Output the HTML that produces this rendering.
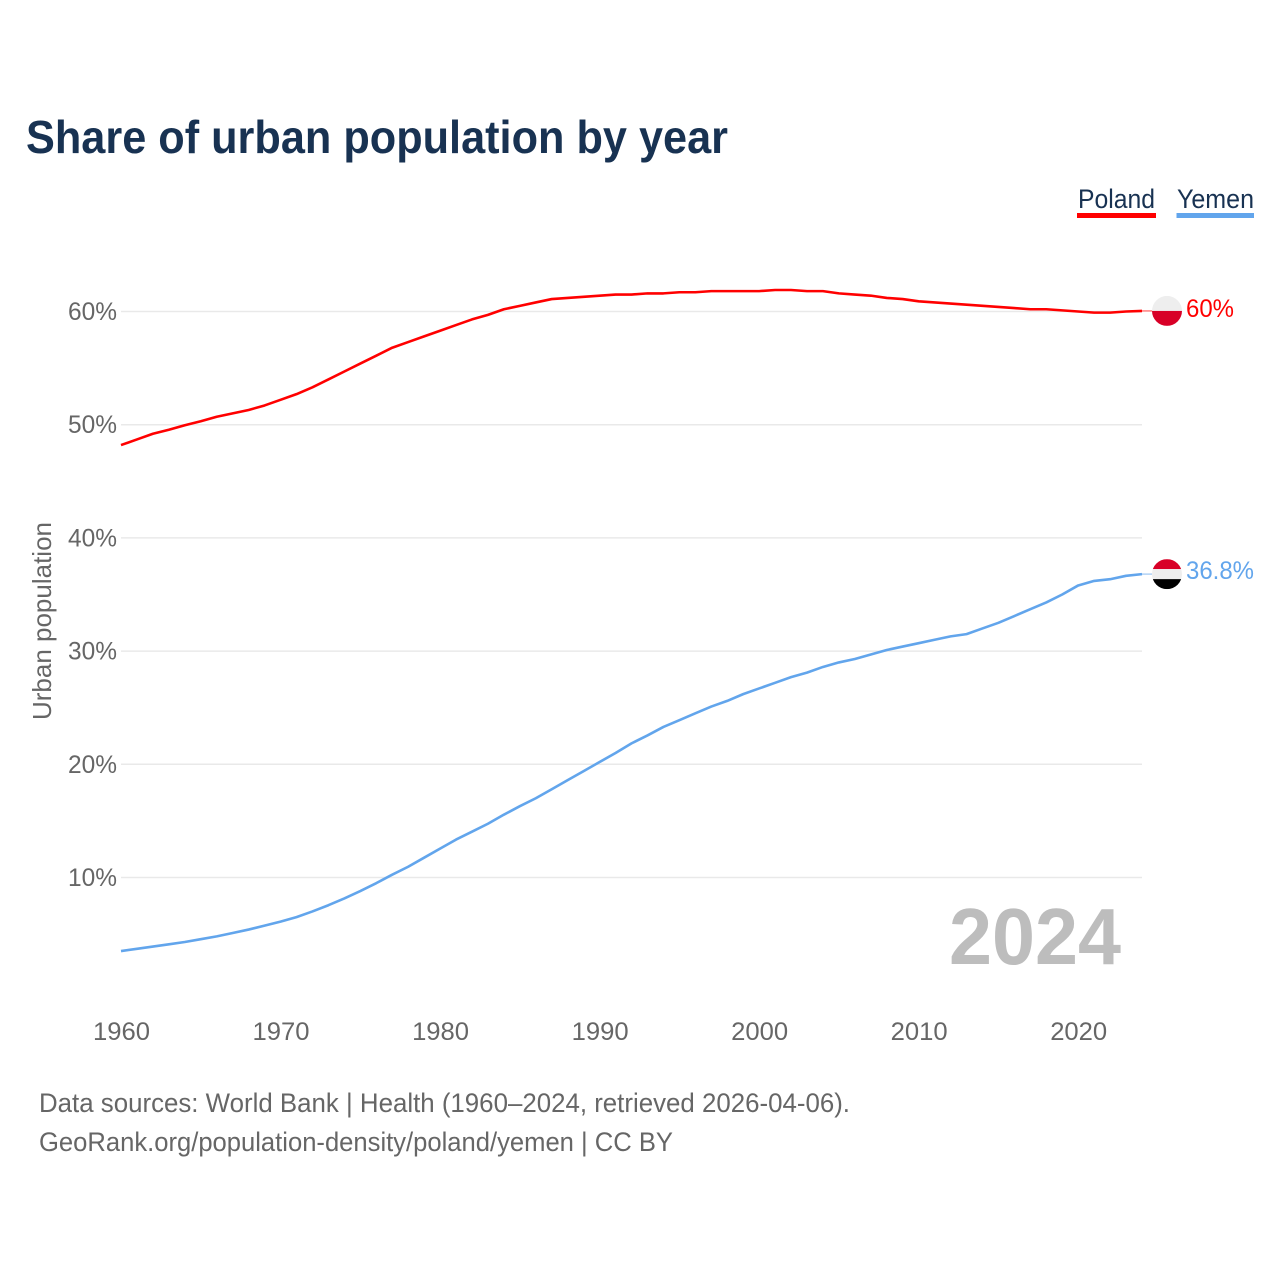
<!DOCTYPE html>
<html lang="en">
<head>
<meta charset="utf-8">
<title>Share of urban population by year</title>
<style>
html,body{margin:0;padding:0;background:#fff;}
#chart{display:block;width:1280px;height:1280px;font-family:"Liberation Sans",sans-serif;}
</style>
</head>
<body>
<svg id="chart" xmlns="http://www.w3.org/2000/svg" width="1280" height="1280" viewBox="0 0 1280 1280">
  <rect width="1280" height="1280" fill="#fff"/>
  <text x="26" y="153" font-size="46" font-weight="700" fill="#183252" textLength="702" lengthAdjust="spacingAndGlyphs">Share of urban population by year</text>
  <g>
    <g>
      <text x="1078" y="208" font-size="27" fill="#183252" textLength="77" lengthAdjust="spacingAndGlyphs">Poland</text>
      <rect x="1077" y="213" width="79" height="5" fill="#ff0000"/>
    </g>
    <g>
      <text x="1177" y="208" font-size="27" fill="#183252" textLength="77" lengthAdjust="spacingAndGlyphs">Yemen</text>
      <rect x="1176.5" y="213" width="77.5" height="5" fill="#62a5ec"/>
    </g>
  </g>
  <g id="grid"></g>
  <g id="yticks"></g>
  <g id="xticks"></g>
  <text transform="translate(51 621) rotate(-90)" text-anchor="middle" font-size="26" fill="#666" textLength="198" lengthAdjust="spacingAndGlyphs">Urban population</text>
  <text x="1121" y="964" text-anchor="end" font-size="80" font-weight="700" fill="#bdbdbd" textLength="172" lengthAdjust="spacingAndGlyphs">2024</text>
  <g id="series"></g>
  <defs>
    <clipPath id="clip-poland"><circle id="clip-poland-c" cx="1167" cy="311" r="15"/></clipPath>
    <clipPath id="clip-yemen"><circle id="clip-yemen-c" cx="1167" cy="573" r="15"/></clipPath>
  </defs>
  <g id="flags"></g>
  <text x="39" y="1112" font-size="27" fill="#666" textLength="811" lengthAdjust="spacingAndGlyphs">Data sources: World Bank | Health (1960–2024, retrieved 2026-04-06).</text>
  <text x="39" y="1151" font-size="27" fill="#666" textLength="634" lengthAdjust="spacingAndGlyphs">GeoRank.org/population-density/poland/yemen | CC BY</text>
</svg>
<script>
const startYear = 1960;
const polandValues = [48.2,48.7,49.2,49.55,49.95,50.3,50.7,51.0,51.3,51.7,52.2,52.7,53.3,54.0,54.7,55.4,56.1,56.8,57.3,57.8,58.3,58.8,59.3,59.7,60.2,60.5,60.8,61.1,61.2,61.3,61.4,61.5,61.5,61.6,61.6,61.7,61.7,61.8,61.8,61.8,61.8,61.9,61.9,61.8,61.8,61.6,61.5,61.4,61.2,61.1,60.9,60.8,60.7,60.6,60.5,60.4,60.3,60.2,60.2,60.1,60.0,59.9,59.9,60.0,60.05];
const yemenValues = [3.5,3.7,3.9,4.1,4.3,4.55,4.8,5.1,5.4,5.75,6.1,6.5,7.0,7.55,8.15,8.8,9.5,10.25,10.95,11.75,12.55,13.35,14.05,14.75,15.55,16.3,17.0,17.8,18.6,19.4,20.2,21.0,21.85,22.55,23.3,23.9,24.5,25.1,25.6,26.2,26.7,27.2,27.7,28.1,28.6,29.0,29.3,29.7,30.1,30.4,30.7,31.0,31.3,31.5,32.0,32.5,33.1,33.7,34.3,35.0,35.8,36.2,36.35,36.65,36.8];
const yTickValues = [10,20,30,40,50,60];
const yTickLabels = ['10%','20%','30%','40%','50%','60%'];
const xTickYears = [1960,1970,1980,1990,2000,2010,2020];
const xTickLabels = ['1960','1970','1980','1990','2000','2010','2020'];
const polandEndLabel = '60%';
const yemenEndLabel = '36.8%';

const NS = 'http://www.w3.org/2000/svg';
function xScale(year){ return 121 + (year - 1960) * (1021 / 64); }
function yScale(v){ return 877.5 - (v - 10) * 11.32; }
function make(tag, attrs, parent, text){
  const el = document.createElementNS(NS, tag);
  for (const k in attrs) el.setAttribute(k, attrs[k]);
  if (text !== undefined) el.textContent = text;
  parent.appendChild(el);
  return el;
}
const grid = document.getElementById('grid');
const yticks = document.getElementById('yticks');
const xticks = document.getElementById('xticks');
const series = document.getElementById('series');
const flags = document.getElementById('flags');

yTickValues.forEach(function(v, i){
  const line = make('line', {x1:121, x2:1142, y1:yScale(v), y2:yScale(v), stroke:'#e9e9e9', 'stroke-width':1.5}, grid);
  
  
  const label = make('text', {x:117, y:yScale(v) + 8.5, 'text-anchor':'end', 'font-size':25, fill:'#666'}, yticks, yTickLabels[i]);
  
  
  label.setAttribute('textLength', 49);
  label.setAttribute('lengthAdjust', 'spacingAndGlyphs');
});

xTickYears.forEach(function(year, i){
  const label = make('text', {x:xScale(year) + 0.5, y:1040, 'text-anchor':'middle', 'font-size':25, fill:'#666'}, xticks, xTickLabels[i]);
  
  
  label.setAttribute('textLength', 57);
  label.setAttribute('lengthAdjust', 'spacingAndGlyphs');
});

function pathFor(values){
  return values.map(function(v, i){
    return (i ? 'L' : 'M') + xScale(startYear + i).toFixed(2) + ' ' + yScale(v).toFixed(2);
  }).join(' ');
}

const polandLine = make('path', {d:pathFor(polandValues), fill:'none', stroke:'#ff0000', 'stroke-width':2.6, 'stroke-linejoin':'round'}, series);


const yemenLine = make('path', {d:pathFor(yemenValues), fill:'none', stroke:'#62a5ec', 'stroke-width':2.6, 'stroke-linejoin':'round'}, series);



const polandEnd = yScale(polandValues[polandValues.length - 1]);
const yemenEnd = yScale(yemenValues[yemenValues.length - 1]);
document.getElementById('clip-poland-c').setAttribute('cy', polandEnd);
document.getElementById('clip-yemen-c').setAttribute('cy', yemenEnd);

const polandConnector = make('line', {x1:1142, x2:1152, y1:polandEnd, y2:polandEnd, stroke:'#ff0000', 'stroke-width':1.5, opacity:0.5}, flags);


const yemenConnector = make('line', {x1:1142, x2:1152, y1:yemenEnd, y2:yemenEnd, stroke:'#62a5ec', 'stroke-width':1.5, opacity:0.5}, flags);



const polandFlag = make('g', {'clip-path':'url(#clip-poland)'}, flags);


make('rect', {x:1152, y:polandEnd - 15, width:30, height:15, fill:'#eeeeee'}, polandFlag);
make('rect', {x:1152, y:polandEnd, width:30, height:15, fill:'#d80027'}, polandFlag);

const yemenFlag = make('g', {'clip-path':'url(#clip-yemen)'}, flags);


make('rect', {x:1152, y:yemenEnd - 15, width:30, height:10, fill:'#d80027'}, yemenFlag);
make('rect', {x:1152, y:yemenEnd - 5, width:30, height:10, fill:'#eeeeee'}, yemenFlag);
make('rect', {x:1152, y:yemenEnd + 5, width:30, height:10, fill:'#000000'}, yemenFlag);

const polandLabel = make('text', {x:1186, y:polandEnd + 6, 'font-size':25, fill:'#ff0000'}, flags, polandEndLabel);


polandLabel.setAttribute('textLength', 48);
polandLabel.setAttribute('lengthAdjust', 'spacingAndGlyphs');
const yemenLabel = make('text', {x:1186, y:yemenEnd + 5, 'font-size':25, fill:'#62a5ec'}, flags, yemenEndLabel);


yemenLabel.setAttribute('textLength', 68);
yemenLabel.setAttribute('lengthAdjust', 'spacingAndGlyphs');
</script>
</body>
</html>
